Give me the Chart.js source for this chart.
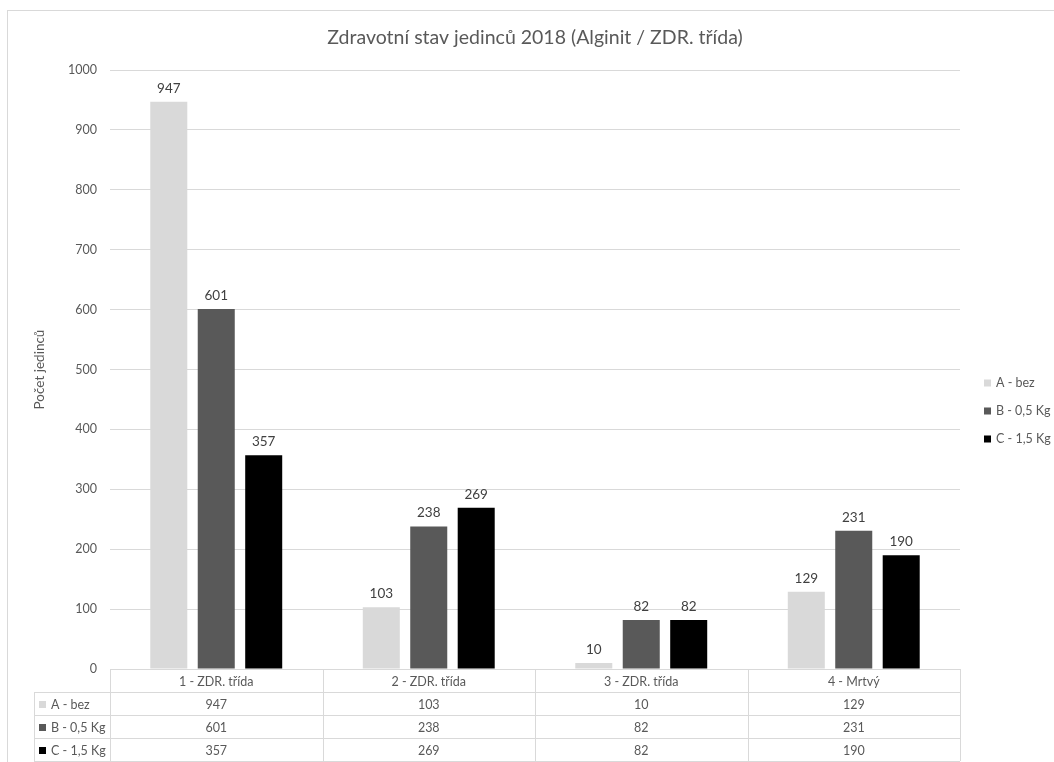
<!DOCTYPE html>
<html>
<head>
<meta charset="utf-8">
<script src="https://cdn.jsdelivr.net/npm/chart.js@4.4.0/dist/chart.umd.min.js"></script>
<style>
  body { margin: 0; background: #fff; }
  canvas { display: block; }
</style>
</head>
<body>
<canvas id="chart" width="1054" height="762"></canvas>
<script>
const categories = ['1 - ZDR. třída', '2 - ZDR. třída', '3 - ZDR. třída', '4 - Mrtvý'];
const seriesNames = ['A - bez', 'B - 0,5 Kg', 'C - 1,5 Kg'];
const valuesA = [947, 103, 10, 129];
const valuesB = [601, 238, 82, 231];
const valuesC = [357, 269, 82, 190];
const seriesColors = ['#d9d9d9', '#595959', '#000000'];
const yTicks = [0, 100, 200, 300, 400, 500, 600, 700, 800, 900, 1000];

const chartTitle = 'Zdravotní stav jedinců 2018 (Alginit / ZDR. třída)';
const yTitle = 'Počet jedinců';

const FONT = 'Lato, "Open Sans", sans-serif';
const TEXT = '#595959';
const LINE = '#d9d9d9';

const allValues = [valuesA, valuesB, valuesC];

// draws title, value labels, legend, data table and frame
const excelBits = {
  id: 'excelBits',
  afterDraw(chart) {
    const ctx = chart.ctx;
    const area = chart.chartArea;
    const x = chart.scales.x;
    ctx.save();

    // outer frame
    ctx.strokeStyle = LINE;
    ctx.lineWidth = 1;
    ctx.strokeRect(7.5, 10.5, 1100, 800);

    // title
    ctx.fillStyle = TEXT;
    ctx.font = '19.5px ' + FONT;
    ctx.textAlign = 'center';
    ctx.textBaseline = 'middle';
    ctx.fillText(chartTitle, (area.left + area.right) / 2, 38);

    // y axis title
    ctx.save();
    ctx.translate(40, (area.top + area.bottom) / 2);
    ctx.rotate(-Math.PI / 2);
    ctx.font = '13.5px ' + FONT;
    ctx.fillText(yTitle, 0, 0);
    ctx.restore();

    // value labels above bars
    ctx.font = '13.5px ' + FONT;
    ctx.fillStyle = '#404040';
    ctx.textBaseline = 'alphabetic';
    chart.data.datasets.forEach((ds, i) => {
      chart.getDatasetMeta(i).data.forEach((bar, j) => {
        ctx.fillText(String(ds.data[j]), bar.x, bar.y - 9);
      });
    });

    // legend
    ctx.textAlign = 'left';
    ctx.textBaseline = 'middle';
    ctx.font = '12.5px ' + FONT;
    const legendY = [383, 411, 439];
    seriesNames.forEach((name, i) => {
      ctx.fillStyle = seriesColors[i];
      ctx.fillRect(984, legendY[i] - 3.5, 7, 7);
      ctx.fillStyle = TEXT;
      ctx.fillText(name, 996, legendY[i]);
    });

    // data table
    const rowH = 23;
    const top = area.bottom;
    const colEdges = [];
    for (let i = 0; i < categories.length; i++) {
      colEdges.push(x.getPixelForValue(i) - (area.right - area.left) / categories.length / 2);
    }
    colEdges.push(area.right);
    const legendLeft = 34;

    ctx.strokeStyle = LINE;
    ctx.beginPath();
    ctx.moveTo(area.left, Math.round(top) + 0.5);
    ctx.lineTo(area.right, Math.round(top) + 0.5);
    for (let r = 1; r <= 4; r++) {
      const yy = Math.round(top + r * rowH) + 0.5;
      ctx.moveTo(legendLeft, yy);
      ctx.lineTo(area.right, yy);
    }
    colEdges.forEach(ex => {
      const xx = Math.round(ex) + 0.5;
      ctx.moveTo(xx, top);
      ctx.lineTo(xx, top + 4 * rowH);
    });
    ctx.moveTo(legendLeft + 0.5, top + rowH);
    ctx.lineTo(legendLeft + 0.5, top + 4 * rowH);
    ctx.stroke();

    ctx.font = '12.5px ' + FONT;
    ctx.textAlign = 'center';
    ctx.fillStyle = TEXT;
    categories.forEach((c, i) => {
      ctx.fillText(c, x.getPixelForValue(i), top + rowH / 2 + 1);
    });
    allValues.forEach((vals, r) => {
      const cy = top + (r + 1) * rowH + rowH / 2 + 1;
      ctx.fillStyle = seriesColors[r];
      ctx.fillRect(legendLeft + 5, cy - 3.5, 7, 7);
      ctx.fillStyle = TEXT;
      ctx.textAlign = 'left';
      ctx.fillText(seriesNames[r], legendLeft + 17, cy);
      ctx.textAlign = 'center';
      vals.forEach((v, i) => {
        ctx.fillText(String(v), x.getPixelForValue(i), cy);
      });
    });

    ctx.restore();
  }
};

new Chart(document.getElementById('chart'), {
  type: 'bar',
  data: {
    labels: categories,
    datasets: seriesNames.map((name, i) => ({
      label: name,
      data: allValues[i],
      backgroundColor: seriesColors[i],
      borderWidth: 0,
      categoryPercentage: 0.67,
      barPercentage: 0.78
    }))
  },
  options: {
    responsive: false,
    animation: false,
    devicePixelRatio: 1,
    layout: { padding: { top: 70, right: 94, bottom: 93, left: 0 } },
    plugins: {
      legend: { display: false },
      title: { display: false },
      tooltip: { enabled: false }
    },
    scales: {
      x: {
        display: false,
        grid: { display: false }
      },
      y: {
        min: 0,
        max: 1000,
        afterBuildTicks(scale) {
          scale.ticks = yTicks.map(v => ({ value: v }));
        },
        afterFit(scale) {
          scale.width = 110;
        },
        border: { display: false },
        grid: { color: LINE, drawTicks: false },
        ticks: {
          color: TEXT,
          padding: 13,
          font: { family: FONT, size: 12.5 },
          callback: v => String(v)
        }
      }
    }
  },
  plugins: [excelBits]
});
</script>
</body>
</html>
